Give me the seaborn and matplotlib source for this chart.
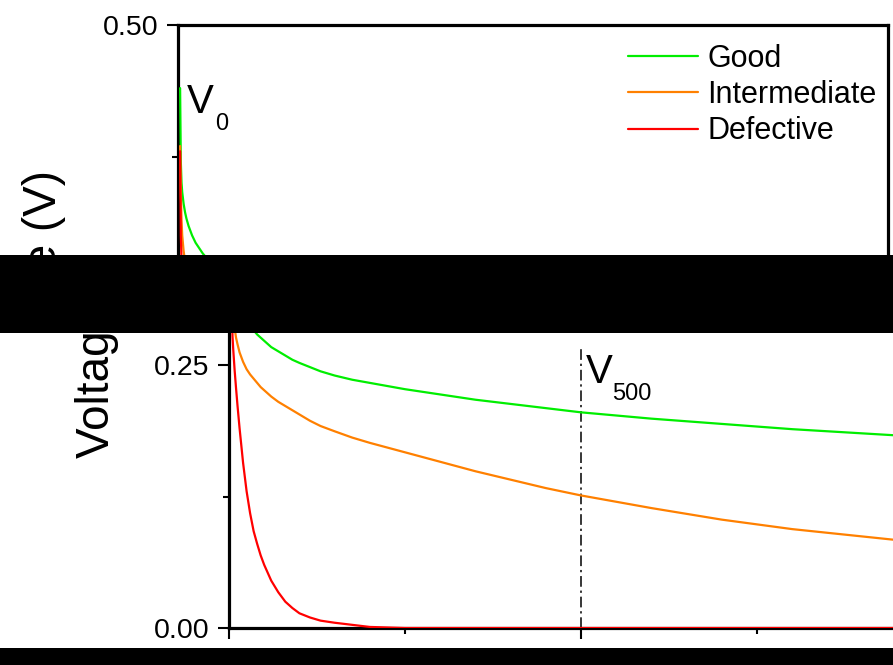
import numpy as np
import pandas as pd
import matplotlib
matplotlib.use("Agg")
import matplotlib.pyplot as plt
import seaborn as sns
from matplotlib.patches import Rectangle
from matplotlib.ticker import MultipleLocator, NullFormatter

# ---------------- data ----------------
time_s = [3, 4, 5, 6, 8, 10, 12, 15, 20, 25, 30, 35, 40, 45, 50, 60, 70, 80, 90, 100,
          115, 130, 150, 175, 200, 250, 300, 350, 400, 450, 500, 600, 700, 800, 900, 1000]
good = [0.440, 0.370, 0.350, 0.341, 0.330, 0.322, 0.316, 0.309, 0.300, 0.293, 0.288,
        0.283, 0.279, 0.276, 0.273, 0.267, 0.263, 0.259, 0.255, 0.252, 0.248, 0.244,
        0.240, 0.236, 0.233, 0.227, 0.222, 0.217, 0.213, 0.209, 0.205, 0.199, 0.194,
        0.189, 0.185, 0.181]
intermediate = [0.385, 0.340, 0.315, 0.300, 0.285, 0.276, 0.270, 0.262, 0.253, 0.246,
                0.241, 0.237, 0.233, 0.229, 0.226, 0.220, 0.215, 0.211, 0.207, 0.203,
                0.197, 0.192, 0.187, 0.181, 0.176, 0.167, 0.158, 0.149, 0.141, 0.133,
                0.126, 0.114, 0.103, 0.094, 0.087, 0.080]
defective = [0.380, 0.300, 0.277, 0.265, 0.245, 0.228, 0.212, 0.190, 0.157, 0.130,
             0.109, 0.092, 0.080, 0.069, 0.060, 0.045, 0.034, 0.025, 0.019, 0.014,
             0.010, 0.007, 0.005, 0.003, 0.001, 0.000, 0.000, 0.000, 0.000, 0.000,
             0.000, 0.000, 0.000, 0.000, 0.000, 0.000]
series_names = ["Good", "Intermediate", "Defective"]
colors = {"Good": "#00ee00", "Intermediate": "#ff8000", "Defective": "#ff0000"}
y_ticks = [0.00, 0.25, 0.50]
y_ticklabels = ["0.00", "0.25", "0.50"]
marker_time = 500
marker_top = 0.265
y_label = "Voltage (V)"

df = pd.DataFrame({
    "Time": time_s * 3,
    "Voltage": good + intermediate + defective,
    "Sample": [s for s in series_names for _ in time_s],
})

# ---------------- style ----------------
sns.set_theme(style="ticks")
plt.rcParams["font.family"] = ["Liberation Sans", "DejaVu Sans"]
plt.rcParams["text.color"] = "black"

W, H = 893, 665
fig = plt.figure(figsize=(W / 100, H / 100), dpi=100)
fig.patch.set_facecolor("white")

def frac(x0, y_top, x1, y_bot):
    return [x0 / W, 1 - y_bot / H, (x1 - x0) / W, (y_bot - y_top) / H]

pxv = 0.25 / 263.0        # volts per pixel
pxt = 500 / 352.0         # seconds per pixel

# top panel (shifted copy); its lower edge lies under the redaction bar
ax_top = fig.add_axes(frac(178, 25, 888, 270))
# bottom panel; its upper edge lies under the redaction bar
ax_bot = fig.add_axes(frac(229, 315, 939, 628))

for ax in (ax_top, ax_bot):
    sns.lineplot(data=df, x="Time", y="Voltage", hue="Sample", hue_order=series_names,
                 palette=colors, linewidth=1.6, ax=ax, legend=(ax is ax_top),
                 estimator=None, sort=False, zorder=3)
    ax.set_xlim(0, 710 * pxt)
    ax.set_xlabel("")
    ax.set_ylabel("")
    ax.xaxis.set_major_locator(MultipleLocator(500))
    ax.xaxis.set_minor_locator(MultipleLocator(250))
    ax.xaxis.set_major_formatter(NullFormatter())
    ax.set_yticks(y_ticks)
    ax.set_yticklabels(y_ticklabels)
    ax.yaxis.set_minor_locator(MultipleLocator(0.125))
    ax.tick_params(axis="both", which="major", direction="out", length=8, width=1.5,
                   labelsize=20.5, pad=6, color="black", labelcolor="black")
    ax.tick_params(axis="both", which="minor", direction="out", length=4.5, width=1.5,
                   color="black")
    for sp in ax.spines.values():
        sp.set_linewidth(2.3)
        sp.set_color("black")
        sp.set_visible(True)

ax_top.set_ylim(0.5 - 245 * pxv, 0.5)
ax_bot.set_ylim(0.0, 313 * pxv)

# V500 marker line (bottom panel)
ax_bot.plot([marker_time, marker_time], [0, marker_top], color="black",
            linestyle=(0, (7, 2.5, 1.5, 2.5)), linewidth=1.1, zorder=1)

# annotations
ax_top.text((187 - 178) * pxt, 0.5 - (113 - 25) * pxv, "V", fontsize=29,
            ha="left", va="baseline", color="black")
ax_top.text((215 - 178) * pxt, 0.5 - (130 - 25) * pxv, "0", fontsize=17,
            ha="left", va="baseline", color="black")
ax_bot.text((586 - 229) * pxt, (628 - 383) * pxv, "V", fontsize=29,
            ha="left", va="baseline", color="black")
ax_bot.text((612 - 229) * pxt, (628 - 400) * pxv, "500", fontsize=17,
            ha="left", va="baseline", color="black")

# legend
leg = ax_top.legend(loc="upper left", bbox_to_anchor=(628 / W, 1 - 44 / H),
                    bbox_transform=fig.transFigure, frameon=False, fontsize=22,
                    handlelength=2.3, handletextpad=0.3, labelspacing=0.2,
                    borderpad=0, borderaxespad=0)
for line in leg.get_lines():
    line.set_linewidth(1.6)
for txt in leg.get_texts():
    txt.set_color("black")

# y-axis labels (one per panel), clipped to their panel bands
clip_bot = Rectangle((0, 0), 1, 1 - 300 / H, transform=fig.transFigure)
clip_top = Rectangle((0, 1 - 290 / H), 1, 290 / H, transform=fig.transFigure)
t_bot = fig.text(97 / W, 1 - 458 / H, y_label, rotation=90, fontsize=33,
                 ha="center", va="bottom", color="black")
t_bot.set_clip_path(clip_bot)
t_top = fig.text(44 / W, 1 - 170 / H, y_label, rotation=90, fontsize=33,
                 ha="center", va="top", color="black")
t_top.set_clip_path(clip_top)

# redaction bars
fig.add_artist(Rectangle((0, 1 - 333 / H), 1, 78 / H, transform=fig.transFigure,
                         facecolor="black", edgecolor="none", zorder=20))
fig.add_artist(Rectangle((0, 0), 1, 17 / H, transform=fig.transFigure,
                         facecolor="black", edgecolor="none", zorder=20))

fig.savefig("out.png", dpi=100, facecolor="white")
